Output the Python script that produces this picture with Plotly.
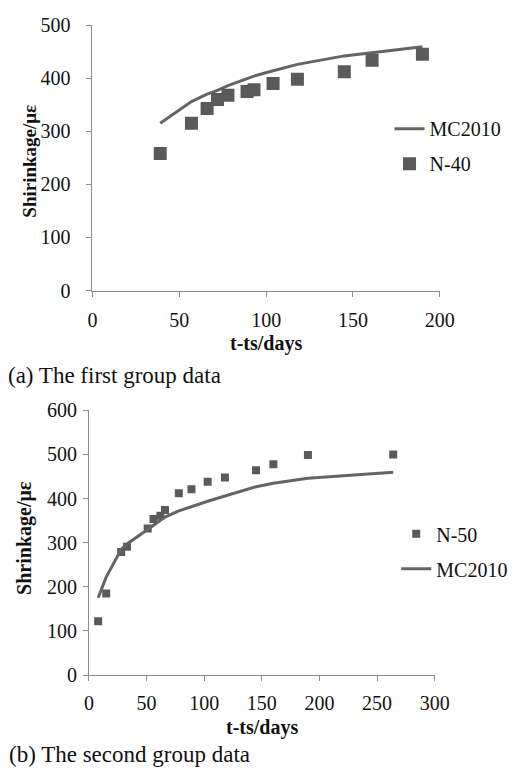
import plotly.graph_objects as go

# ---- data (a) first group ----
a_days = [39, 57, 66, 72, 78, 89, 93, 104, 118, 145, 161, 190]
a_n40 = [258, 315, 343, 360, 368, 375, 378, 390, 398, 412, 434, 445]
a_mc2010 = [315, 356, 370, 377, 386, 400, 404, 414, 426, 442, 448, 459]

# ---- data (b) second group ----
b_days = [8, 15, 28, 33, 51, 56, 62, 66, 78, 89, 103, 118, 145, 160, 190, 264]
b_n50 = [122, 185, 279, 291, 332, 354, 361, 374, 412, 421, 438, 448, 464, 478, 499, 500]
b_mc2010 = [175, 222, 285, 297, 330, 340, 350, 358, 372, 382, 394, 406, 427, 435, 446, 460]

a_xticks = [0, 50, 100, 150, 200]
a_yticks = [0, 100, 200, 300, 400, 500]
b_xticks = [0, 50, 100, 150, 200, 250, 300]
b_yticks = [0, 100, 200, 300, 400, 500, 600]

W, H = 517, 779
FONT = "Liberation Serif"
MARK = "#5a5a5a"
LINE = "#646464"
AX = "#8c8c8c"

def px(x):
    return x / W

def py(y):
    return 1 - y / H

fig = go.Figure()

fig.add_trace(go.Scatter(x=a_days, y=a_mc2010, mode="lines", name="MC2010",
                         line=dict(color=LINE, width=3), xaxis="x", yaxis="y",
                         legend="legend", legendgroup="a1"))
fig.add_trace(go.Scatter(x=a_days, y=a_n40, mode="markers", name="N-40",
                         marker=dict(symbol="square", size=13, color=MARK),
                         xaxis="x", yaxis="y", legend="legend", legendgroup="a2"))
fig.add_trace(go.Scatter(x=b_days, y=b_n50, mode="markers", name="N-50",
                         marker=dict(symbol="square", size=8, color=MARK),
                         xaxis="x2", yaxis="y2", legend="legend2", legendgroup="b1"))
fig.add_trace(go.Scatter(x=b_days, y=b_mc2010, mode="lines", name="MC2010",
                         line=dict(color=LINE, width=3), xaxis="x2", yaxis="y2",
                         legend="legend2", legendgroup="b2"))

axcommon = dict(showline=True, linecolor=AX, linewidth=1, ticks="outside",
                ticklen=5, tickcolor=AX, showgrid=False, zeroline=False,
                tickfont=dict(family=FONT, size=20, color="#111"))

fig.update_layout(
    width=W, height=H,
    margin=dict(l=0, r=0, t=0, b=0),
    paper_bgcolor="white", plot_bgcolor="white",
    font=dict(family=FONT, color="#111"),
    xaxis=dict(domain=[px(91), px(452.3)], range=[0, 200], tickvals=a_xticks,
               anchor="y", ticklabelstandoff=6, **axcommon),
    yaxis=dict(domain=[py(287.7), py(14.5)], range=[0, 500], tickvals=a_yticks,
               anchor="x", ticklabelstandoff=12, **axcommon),
    xaxis2=dict(domain=[px(87.3), px(447)], range=[0, 300], tickvals=b_xticks,
                anchor="y2", ticklabelstandoff=5, **axcommon),
    yaxis2=dict(domain=[py(683.3), py(411)], range=[0, 600], tickvals=b_yticks,
                anchor="x2", ticklabelstandoff=2, **axcommon),
    legend=dict(x=px(400), y=py(101), xanchor="left", yanchor="top",
                font=dict(family=FONT, size=20, color="#111"),
                bgcolor="rgba(0,0,0,0)", tracegroupgap=6, traceorder="grouped"),
    legend2=dict(x=px(407), y=py(518), xanchor="left", yanchor="top",
                 font=dict(family=FONT, size=20, color="#111"),
                 bgcolor="rgba(0,0,0,0)", tracegroupgap=6, traceorder="grouped"),
    showlegend=True,
)

annots = [
    dict(text="<b>Shirinkage/με</b>", x=px(26), y=py(154), textangle=-90, size=19),
    dict(text="<b>t-ts/days</b>", x=px(272), y=py(342), textangle=0, size=20),
    dict(text="(a) The first group data", x=px(114), y=py(375), textangle=0, size=23),
    dict(text="<b>Shrinkage/με</b>", x=px(21), y=py(542), textangle=-90, size=20),
    dict(text="<b>t-ts/days</b>", x=px(267), y=py(737), textangle=0, size=20),
    dict(text="(b) The second group data", x=px(130), y=py(765), textangle=0, size=23),
]
for a in annots:
    fig.add_annotation(text=a["text"], x=a["x"], y=a["y"], xref="paper", yref="paper",
                       xanchor="center", yanchor="middle", showarrow=False,
                       textangle=a["textangle"],
                       font=dict(family=FONT, size=a["size"], color="#111"))

fig.write_html("out.html")
